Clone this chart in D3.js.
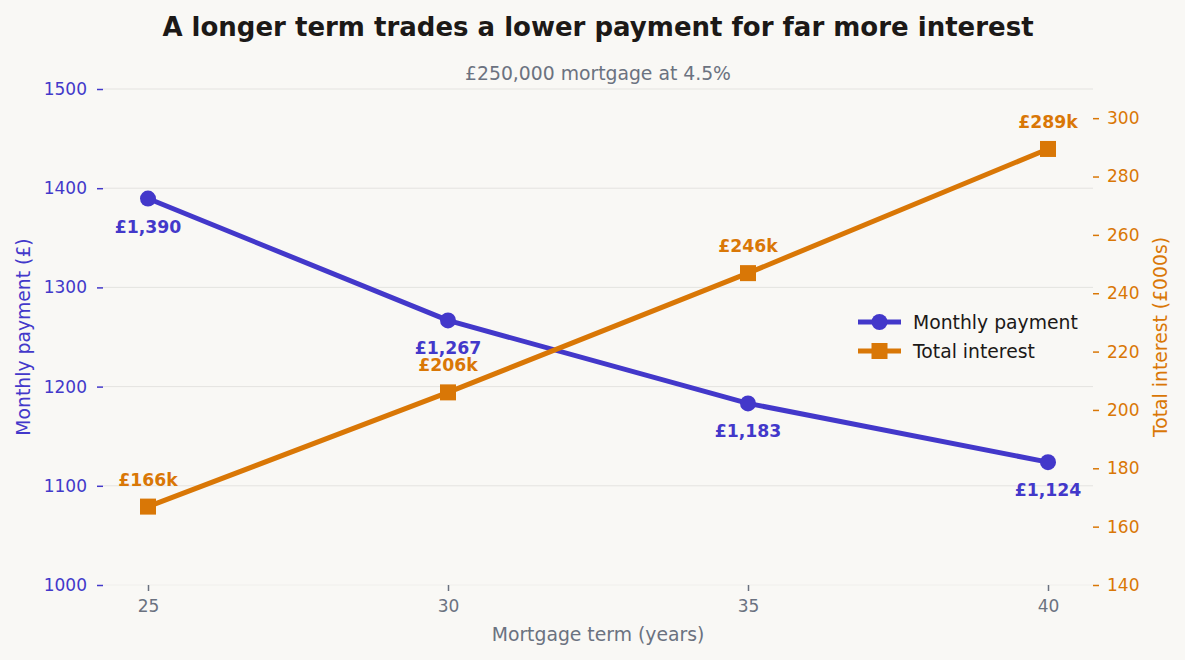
<!DOCTYPE html>
<html><head><meta charset="utf-8">
<script src="https://cdn.jsdelivr.net/npm/d3@7"></script>
<style>
html,body{margin:0;padding:0;background:#f9f8f5;}
svg{display:block;font-family:"DejaVu Sans",sans-serif;}
</style></head><body>
<svg id="c" width="1185" height="660"></svg>
<script>
const terms = [25, 30, 35, 40];
const monthlyPayment = [1389.58, 1266.71, 1183.08, 1123.86];
const totalInterest = [166.87, 206.02, 246.89, 289.45];
const paymentLabels = ["£1,390", "£1,267", "£1,183", "£1,124"];
const interestLabels = ["£166k", "£206k", "£246k", "£289k"];
const xTicks = [25, 30, 35, 40];
const leftTicks = [1000, 1100, 1200, 1300, 1400, 1500];
const rightTicks = [140, 160, 180, 200, 220, 240, 260, 280, 300];

const purple = "#4338ca", orange = "#d97706", gray = "#6b7280";
const svg = d3.select("#c");
const L = 103, R = 1093, T = 89, B = 585;

const x = d3.scaleLinear().domain([24.25, 40.75]).range([L, R]);
const yL = d3.scaleLinear().domain([1000, 1500]).range([B, T]);
const yR = d3.scaleLinear().domain([140, 310]).range([B, T]);

// grid
svg.append("g").selectAll("line").data(leftTicks).join("line")
  .attr("x1", L).attr("x2", R).attr("y1", d => yL(d)).attr("y2", d => yL(d))
  .attr("stroke", d => d === 1000 ? "#f0efec" : "#e4e3e0").attr("stroke-width", 1);

const fmt = d3.format("d");
// axes
const axL = svg.append("g").attr("transform", `translate(${L},0)`)
  .call(d3.axisLeft(yL).tickValues(leftTicks).tickFormat(fmt).tickSize(6).tickPadding(10));
axL.select(".domain").remove();
axL.selectAll("line").attr("stroke", purple).attr("stroke-width", 1.5);
axL.selectAll("text").attr("fill", purple).attr("font-size", 17).attr("font-family", "DejaVu Sans");

const axR = svg.append("g").attr("transform", `translate(${R},0)`)
  .call(d3.axisRight(yR).tickValues(rightTicks).tickFormat(fmt).tickSize(6).tickPadding(8));
axR.select(".domain").remove();
axR.selectAll("line").attr("stroke", orange).attr("stroke-width", 1.5);
axR.selectAll("text").attr("fill", orange).attr("font-size", 17).attr("font-family", "DejaVu Sans");

const axB = svg.append("g").attr("transform", `translate(0,${B})`)
  .call(d3.axisBottom(x).tickValues(xTicks).tickFormat(fmt).tickSize(6).tickPadding(9));
axB.select(".domain").remove();
axB.selectAll("line").attr("stroke", gray).attr("stroke-width", 1.5);
axB.selectAll("text").attr("fill", gray).attr("font-size", 17).attr("font-family", "DejaVu Sans");

// titles
svg.append("text").attr("x", 598).attr("y", 36).attr("text-anchor", "middle")
  .attr("font-size", 26).attr("font-weight", "bold").attr("fill", "#1c1917")
  .text("A longer term trades a lower payment for far more interest");
svg.append("text").attr("x", 598).attr("y", 80).attr("text-anchor", "middle")
  .attr("font-size", 18.8).attr("fill", gray).text("£250,000 mortgage at 4.5%");
svg.append("text").attr("x", 598).attr("y", 641).attr("text-anchor", "middle")
  .attr("font-size", 18.8).attr("fill", gray).text("Mortgage term (years)");
svg.append("text").attr("transform", `translate(30,${(T+B)/2}) rotate(-90)`).attr("text-anchor", "middle")
  .attr("font-size", 18.8).attr("fill", purple).text("Monthly payment (£)");
svg.append("text").attr("transform", `translate(1167,${(T+B)/2}) rotate(-90)`).attr("text-anchor", "middle")
  .attr("font-size", 18.8).attr("fill", orange).text("Total interest (£000s)");

// lines
const pData = terms.map((t, i) => ({t, v: monthlyPayment[i], l: paymentLabels[i]}));
const iData = terms.map((t, i) => ({t, v: totalInterest[i], l: interestLabels[i]}));

svg.append("path").datum(pData).attr("fill", "none").attr("stroke", purple).attr("stroke-width", 5)
  .attr("stroke-linejoin", "round").attr("d", d3.line().x(d => x(d.t)).y(d => yL(d.v)));
svg.append("path").datum(iData).attr("fill", "none").attr("stroke", orange).attr("stroke-width", 5)
  .attr("stroke-linejoin", "round").attr("d", d3.line().x(d => x(d.t)).y(d => yR(d.v)));

svg.append("g").selectAll("circle").data(pData).join("circle")
  .attr("cx", d => x(d.t)).attr("cy", d => yL(d.v)).attr("r", 8).attr("fill", purple);
svg.append("g").selectAll("rect").data(iData).join("rect")
  .attr("x", d => x(d.t) - 8).attr("y", d => yR(d.v) - 8).attr("width", 16).attr("height", 16).attr("fill", orange);

// labels
svg.append("g").selectAll("text").data(pData).join("text")
  .attr("x", d => x(d.t)).attr("y", d => yL(d.v) + 34).attr("text-anchor", "middle")
  .attr("font-size", 17.3).attr("font-weight", "bold").attr("fill", purple).text(d => d.l);
svg.append("g").selectAll("text").data(iData).join("text")
  .attr("x", d => x(d.t)).attr("y", d => yR(d.v) - 21).attr("text-anchor", "middle")
  .attr("font-size", 17.3).attr("font-weight", "bold").attr("fill", orange).text(d => d.l);

// legend
const leg = svg.append("g").attr("transform", "translate(858,322)");
const items = [{n: "Monthly payment", c: purple, s: "circle"}, {n: "Total interest", c: orange, s: "square"}];
items.forEach((it, i) => {
  const g = leg.append("g").attr("transform", `translate(0,${i * 29})`);
  g.append("line").attr("x1", 0).attr("x2", 43).attr("stroke", it.c).attr("stroke-width", 5);
  if (it.s === "circle") g.append("circle").attr("cx", 21.5).attr("r", 8).attr("fill", it.c);
  else g.append("rect").attr("x", 13.5).attr("y", -8).attr("width", 16).attr("height", 16).attr("fill", it.c);
  g.append("text").attr("x", 55).attr("y", 6.5).attr("font-size", 18.8).attr("fill", "#1c1917").text(it.n);
});
</script>
</body></html>
